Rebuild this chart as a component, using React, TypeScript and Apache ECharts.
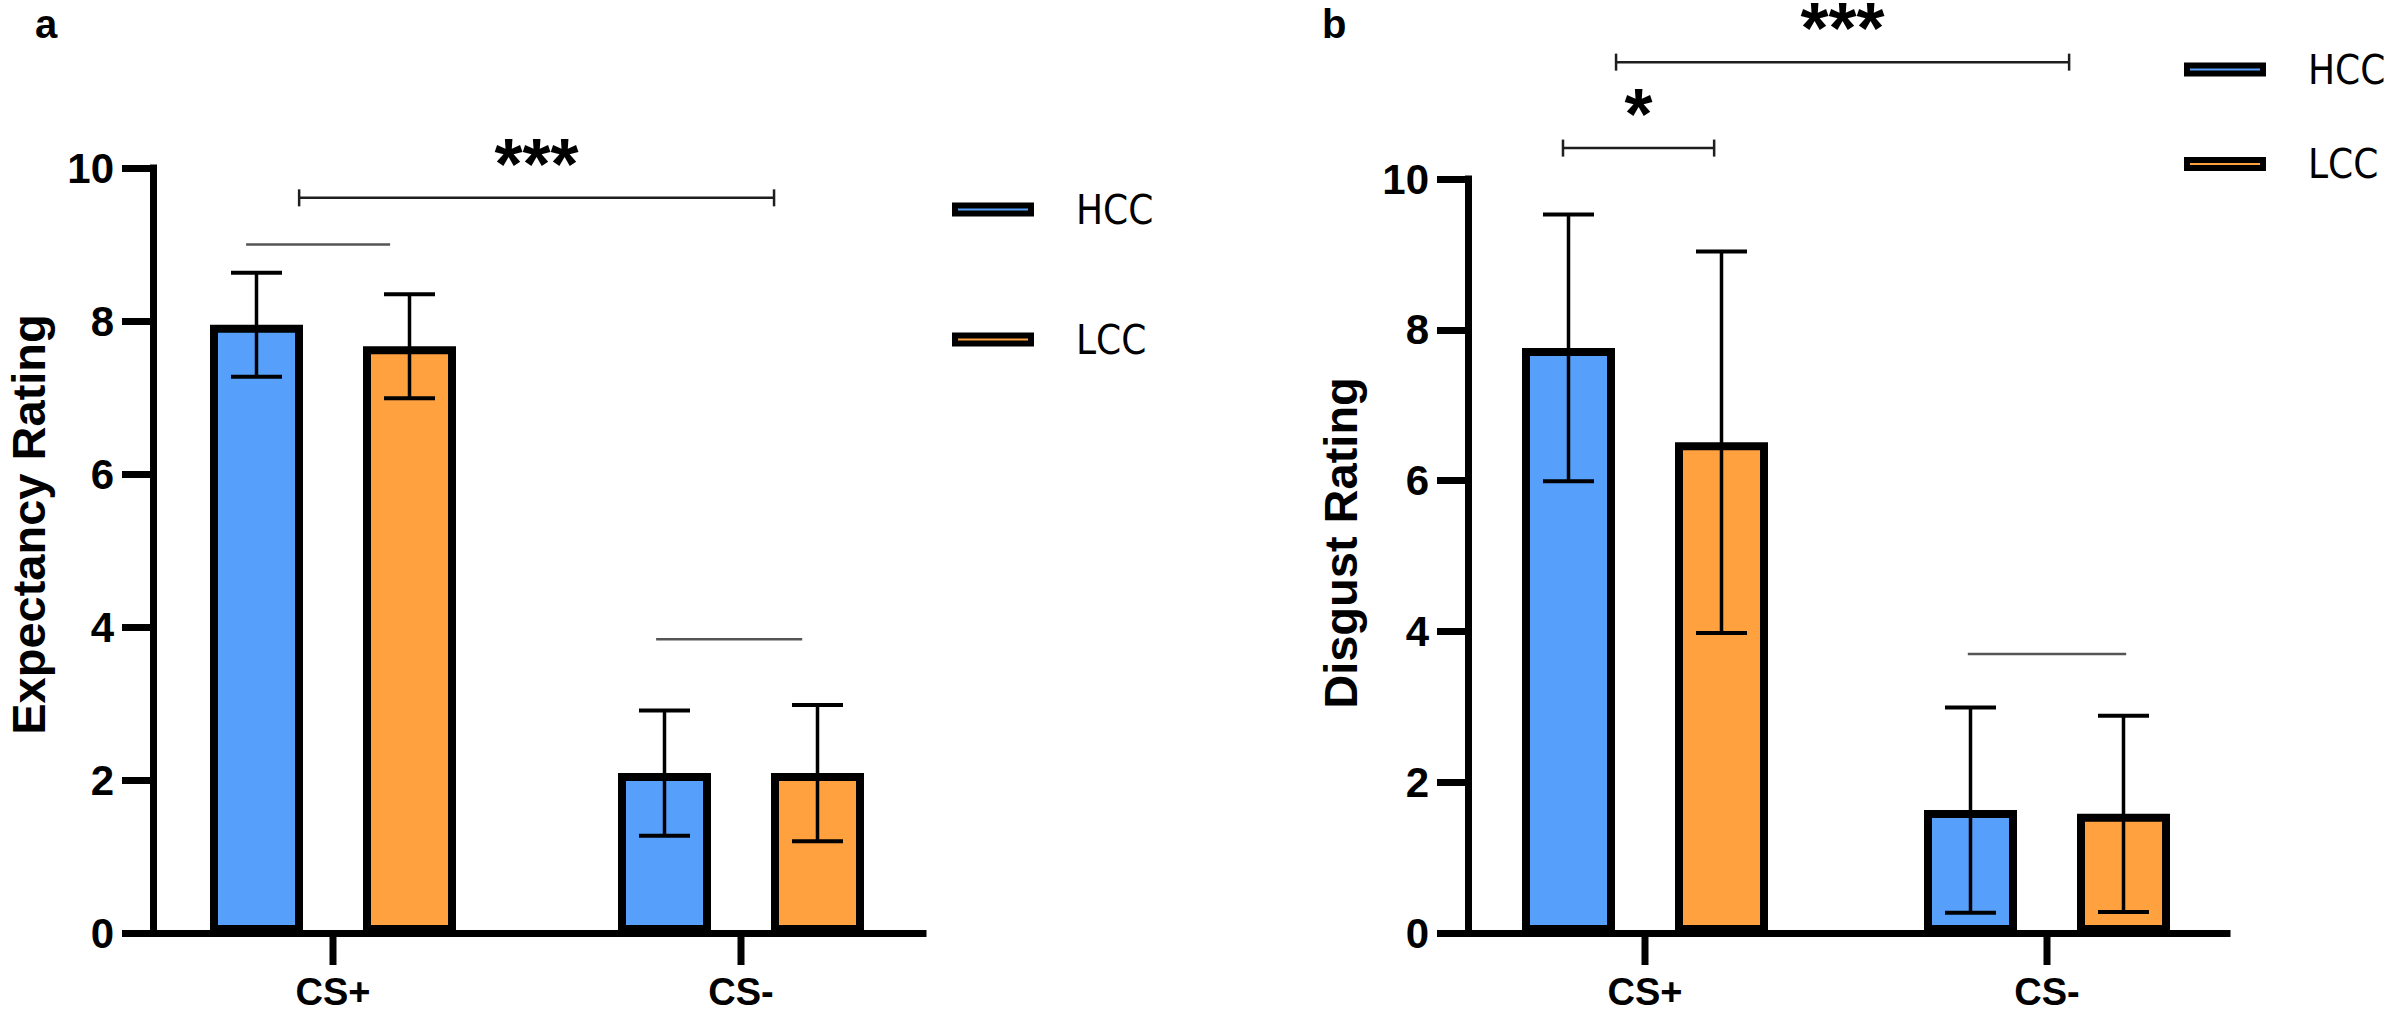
import React, { useEffect, useRef } from 'react';
import * as echarts from 'echarts';

// ---- data ----
const categories = ['CS+', 'CS-'];
const groupNames = ['HCC', 'LCC'];

// Expectancy ratings, mean and SD per condition
const expectancyHCC = [7.95, 2.09];
const expectancyHCCSd = [0.68, 0.82];
const expectancyLCC = [7.67, 2.09];
const expectancyLCCSd = [0.68, 0.89];

// Disgust ratings, mean and SD per condition
const disgustHCC = [7.76, 1.63];
const disgustHCCSd = [1.77, 1.36];
const disgustLCC = [6.51, 1.58];
const disgustLCCSd = [2.53, 1.3];

// Rating scale
const yMin = 0;
const yMax = 10;
const yStep = 2;

// Significance annotations: bracket heights (rating units) and stars
const expectancySigLevels = [9.61, 9.0, 3.84];
const expectancySigLabels = ['***', '', ''];
const disgustSigLevels = [11.55, 10.41, 3.7];
const disgustSigLabels = ['***', '*', ''];

// ---- layout / style ----
const FONT = "'Liberation Sans', Arial, Helvetica, sans-serif";
const NARROW_FONT = "'Liberation Sans Narrow', 'Arial Narrow', 'DejaVu Sans Condensed', 'Liberation Sans', Arial, sans-serif";
const BLUE = '#56A0FB';
const ORANGE = '#FFA13F';
const BAR_WIDTH = 93;
const BAR_GAP_PX = 60;
const BAR_OFFSET = (BAR_WIDTH + BAR_GAP_PX) / 2;
const CAP_HALF = 25.5;
const CATEGORY_TICK_LEN = 32;
const CATEGORY_TICK_WIDTH = 7;

// bracket spans: [category, fraction of band, category, fraction of band]
const expectancySigSpans = [
  [0, -0.083, 1, 0.081],
  [0, -0.213, 0, 0.14],
  [1, -0.208, 1, 0.15],
];
const disgustSigSpans = [
  [0, -0.072, 1, 0.055],
  [0, -0.204, 0, 0.172],
  [1, -0.197, 1, 0.197],
];

const errorData = (means: number[], sds: number[]) =>
  means.map((m, i) => [i, m - sds[i], m + sds[i]]);

const errorRender = (sign: number) => (params: any, api: any) => {
  const cat = api.value(0);
  const hi = api.coord([cat, api.value(2)]);
  const lo = api.coord([cat, api.value(1)]);
  const x = hi[0] + sign * BAR_OFFSET;
  const style = { stroke: '#000', lineWidth: 4 };
  return {
    type: 'group',
    children: [
      { type: 'line', shape: { x1: x, y1: hi[1], x2: x, y2: lo[1] }, style: { stroke: '#000', lineWidth: 3.5 } },
      { type: 'line', shape: { x1: x - CAP_HALF, y1: hi[1], x2: x + CAP_HALF, y2: hi[1] }, style },
      { type: 'line', shape: { x1: x - CAP_HALF, y1: lo[1], x2: x + CAP_HALF, y2: lo[1] }, style },
    ],
  };
};

// downward tick under each category centre
const categoryTickRender = (params: any, api: any) => {
  const p = api.coord([api.value(0), yMin]);
  return {
    type: 'rect',
    shape: { x: p[0] - CATEGORY_TICK_WIDTH / 2, y: p[1], width: CATEGORY_TICK_WIDTH, height: CATEGORY_TICK_LEN },
    style: { fill: '#000' },
  };
};

const sigRender = (spans: number[][], labels: string[]) => (params: any, api: any) => {
  const i = params.dataIndex;
  const level = api.value(1);
  const band = api.size([1, 0])[0];
  const [c1, f1, c2, f2] = spans[i];
  const p1 = api.coord([c1, level]);
  const p2 = api.coord([c2, level]);
  const x1 = p1[0] + f1 * band;
  const x2 = p2[0] + f2 * band;
  const y = p1[1];
  const label = labels[i];
  const color = label ? '#1e1e1e' : '#555';
  const children: any[] = [
    { type: 'line', shape: { x1, y1: y, x2, y2: y }, style: { stroke: color, lineWidth: 2.5 } },
  ];
  if (label) {
    children.push(
      { type: 'line', shape: { x1, y1: y - 8.5, x2: x1, y2: y + 8.5 }, style: { stroke: color, lineWidth: 2.5 } },
      { type: 'line', shape: { x1: x2, y1: y - 8.5, x2, y2: y + 8.5 }, style: { stroke: color, lineWidth: 2.5 } },
      {
        type: 'text',
        x: (x1 + x2) / 2,
        y: y - 34,
        style: {
          text: label,
          font: `bold 72px ${FONT}`,
          lineHeight: 40,
          fill: '#000',
          align: 'center',
          verticalAlign: 'middle',
        },
      }
    );
  }
  return { type: 'group', children };
};

const valueAxisLabel = { margin: 39, fontSize: 42, fontWeight: 'bold', color: '#000', fontFamily: FONT };
const axisLine = { show: true, onZero: false, lineStyle: { color: '#000', width: 7, cap: 'square' } };

function panelAxes(gridIdx: number, name: string, nameGap: number, namePad: number) {
  const yMain = {
    type: 'value',
    gridIndex: gridIdx,
    min: yMin,
    max: yMax,
    interval: yStep,
    offset: -24,
    axisLine,
    axisTick: { show: true, length: 31, lineStyle: { color: '#000', width: 7 } },
    axisLabel: valueAxisLabel,
    splitLine: { show: false },
    name,
    nameLocation: 'middle',
    nameGap,
    nameTextStyle: {
      fontSize: 47,
      lineHeight: 44,
      fontWeight: 'bold',
      color: '#000',
      fontFamily: FONT,
      padding: [0, 0, 0, namePad],
    },
  };
  const yBase = { type: 'value', gridIndex: gridIdx + 1, min: yMin, max: yMax, show: false };
  const xMain = {
    type: 'category',
    gridIndex: gridIdx,
    data: categories,
    // the visible baseline comes from the companion axis; this one carries the labels
    axisLine: { show: false, onZero: false },
    axisTick: { show: false },
    axisLabel: { margin: 44, fontSize: 38, lineHeight: 30, fontWeight: 'bold', color: '#000', fontFamily: FONT },
  };
  const xBase = {
    type: 'value',
    gridIndex: gridIdx + 1,
    min: 0,
    max: 1,
    axisLine,
    axisTick: { show: false },
    axisLabel: { show: false },
    splitLine: { show: false },
  };
  return { yMain, yBase, xMain, xBase };
}

function panelSeries(
  axisIdx: number,
  hcc: number[],
  hccSd: number[],
  lcc: number[],
  lccSd: number[],
  sigLevels: number[],
  sigLabels: string[],
  sigSpans: number[][]
) {
  const barCommon = {
    type: 'bar',
    xAxisIndex: axisIdx,
    yAxisIndex: axisIdx,
    barWidth: BAR_WIDTH,
    barGap: `${(BAR_GAP_PX / BAR_WIDTH) * 100}%`,
    z: 2,
  };
  const onAxes = { xAxisIndex: axisIdx, yAxisIndex: axisIdx, clip: false };
  return [
    { ...barCommon, name: groupNames[0], data: hcc, itemStyle: { color: BLUE, borderColor: '#000', borderWidth: 8 } },
    { ...barCommon, name: groupNames[1], data: lcc, itemStyle: { color: ORANGE, borderColor: '#000', borderWidth: 8 } },
    { type: 'custom', ...onAxes, data: errorData(hcc, hccSd), renderItem: errorRender(-1), z: 4 },
    { type: 'custom', ...onAxes, data: errorData(lcc, lccSd), renderItem: errorRender(1), z: 4 },
    {
      type: 'custom',
      ...onAxes,
      data: sigLevels.map((lv, i) => [sigSpans[i][0], lv]),
      renderItem: sigRender(sigSpans, sigLabels),
      z: 4,
    },
    {
      type: 'custom',
      ...onAxes,
      data: categories.map((_, i) => [i, yMin]),
      renderItem: categoryTickRender,
      z: 6,
    },
  ];
}

function legendFor(left: number, top: number, gap: number) {
  return {
    orient: 'vertical',
    left,
    top,
    padding: 0,
    itemGap: gap,
    itemWidth: 76,
    itemHeight: 8,
    icon: 'rect',
    selectedMode: false,
    data: groupNames,
    itemStyle: { borderColor: '#000', borderWidth: 6 },
    textStyle: { fontSize: 40, lineHeight: 48, color: '#000', fontFamily: NARROW_FONT, padding: [0, 0, 0, 40] },
  };
}

export default function App() {
  const ref = useRef<HTMLDivElement>(null);

  useEffect(() => {
    if (!ref.current) return;
    const chart = echarts.init(ref.current, undefined, { renderer: 'svg' });
    const a = panelAxes(0, 'Expectancy Rating', 103, 52);
    const b = panelAxes(2, 'Disgust Rating', 106, 26);
    const option: any = {
      animation: false,
      backgroundColor: '#fff',
      textStyle: { fontFamily: FONT },
      grid: [
        { left: 129, top: 168, width: 816, height: 765 },
        { left: 153, top: 168, width: 770, height: 765 },
        { left: 1444, top: 179, width: 804, height: 754 },
        { left: 1468, top: 179, width: 759, height: 754 },
      ],
      xAxis: [a.xMain, a.xBase, b.xMain, b.xBase],
      yAxis: [a.yMain, a.yBase, b.yMain, b.yBase],
      legend: [legendFor(952, 185.5, 82), legendFor(2184, 45.5, 46.5)],
      graphic: [
        {
          type: 'text',
          x: 35,
          y: 23.5,
          style: { text: 'a', font: `bold 40px ${FONT}`, lineHeight: 36, fill: '#000', verticalAlign: 'middle' },
        },
        {
          type: 'text',
          x: 1322,
          y: 23.5,
          style: { text: 'b', font: `bold 40px ${FONT}`, lineHeight: 36, fill: '#000', verticalAlign: 'middle' },
        },
      ],
      series: [
        ...panelSeries(0, expectancyHCC, expectancyHCCSd, expectancyLCC, expectancyLCCSd, expectancySigLevels, expectancySigLabels, expectancySigSpans),
        ...panelSeries(2, disgustHCC, disgustHCCSd, disgustLCC, disgustLCCSd, disgustSigLevels, disgustSigLabels, disgustSigSpans),
      ],
    };
    chart.setOption(option);
    return () => chart.dispose();
  }, []);

  return (
    <div
      ref={ref}
      style={{ position: 'absolute', left: 0, top: 0, width: 2385, height: 1013, background: '#fff' }}
    />
  );
}
